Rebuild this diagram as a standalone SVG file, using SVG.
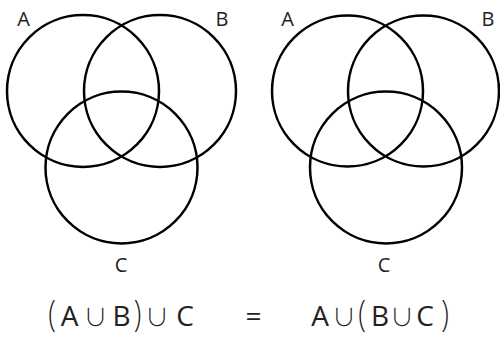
<svg xmlns="http://www.w3.org/2000/svg" width="500" height="338" viewBox="0 0 500 338">
  <style>
    .set { fill: none; stroke: #000; stroke-width: 2.5; }
    .lbl { font-family: "Open Sans", "Noto Sans", "DejaVu Sans", sans-serif; font-size: 20px; font-weight: 400; fill: #222; text-anchor: middle; }
    .eq { font-family: "Open Sans", "Noto Sans", "DejaVu Sans", sans-serif; font-size: 28px; font-weight: 400; fill: #222; text-anchor: middle; }
    .par { font-family: "Open Sans", "Noto Sans", sans-serif; font-size: 28px; font-weight: 300; fill: #222; text-anchor: middle; }
    .op { font-family: "Noto Sans CJK JP", "DejaVu Sans", sans-serif; font-size: 24px; font-weight: 300; fill: #222; text-anchor: middle; }
  </style>
  <rect width="500" height="338" fill="#fff"/>
  <g id="left-diagram">
    <g id="left-A"><circle class="set" cx="83" cy="91" r="76"/><text class="lbl" x="23.5" y="26">A</text></g>
    <g id="left-B"><circle class="set" cx="160" cy="91" r="76"/><text class="lbl" x="222" y="26">B</text></g>
    <g id="left-C"><circle class="set" cx="121.5" cy="167.5" r="76"/><text class="lbl" x="121" y="272">C</text></g>
  </g>
  <g id="right-diagram">
    <g id="right-A"><circle class="set" cx="347.5" cy="91" r="75.5"/><text class="lbl" x="287.5" y="26">A</text></g>
    <g id="right-B"><circle class="set" cx="423.5" cy="91" r="75.5"/><text class="lbl" x="488" y="26">B</text></g>
    <g id="right-C"><circle class="set" cx="386" cy="167.5" r="76"/><text class="lbl" x="384" y="272">C</text></g>
  </g>
  <g id="connectors"/>
  <g id="formula">
    <text class="par" transform="translate(52 326) scale(1 1.3)">(</text>
    <text class="eq" y="326"><tspan x="69.5">A</tspan><tspan x="121.5">B</tspan><tspan x="185">C</tspan></text>
    <text class="op" y="326"><tspan x="95.5">∪</tspan><tspan x="157">∪</tspan></text>
    <text class="par" transform="translate(137.5 326) scale(1 1.3)">)</text>
    <text class="eq" x="253.5" y="326">=</text>
    <text class="eq" y="326"><tspan x="320">A</tspan><tspan x="380">B</tspan><tspan x="425">C</tspan></text>
    <text class="op" y="326"><tspan x="344">∪</tspan><tspan x="402">∪</tspan></text>
    <text class="par" transform="translate(362 326) scale(1 1.3)">(</text>
    <text class="par" transform="translate(445 326) scale(1 1.3)">)</text>
  </g>
</svg>
